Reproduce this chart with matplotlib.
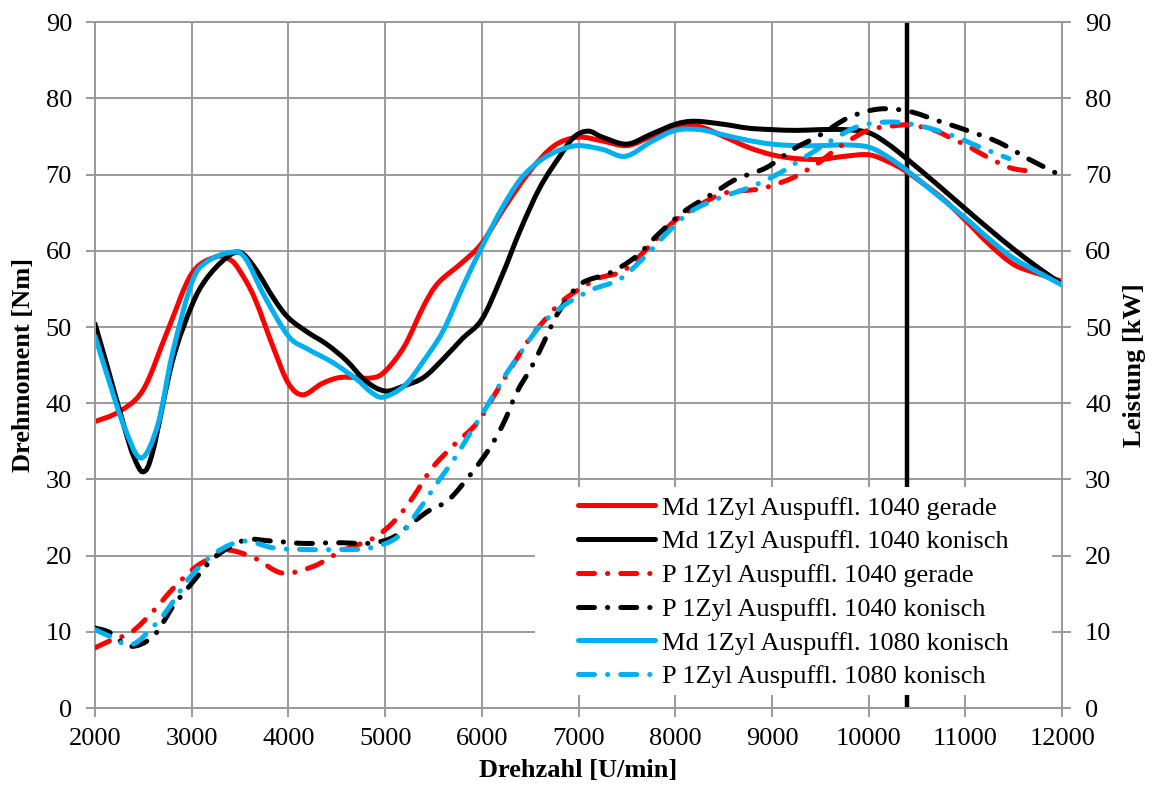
import matplotlib
matplotlib.use("Agg")
import matplotlib.pyplot as plt
from matplotlib.patches import Rectangle, PathPatch
from matplotlib.path import Path
from matplotlib.lines import Line2D

# Drehmoment (Nm) und Leistung (kW) über Drehzahl (U/min)
rpm_md_1040_gerade = [2000, 2250, 2500, 2750, 3000, 3250, 3400, 3500, 3650, 3850, 4000, 4150,
                      4350, 4550, 4850, 5000, 5200, 5400, 5550, 5800, 6000, 6250, 6500, 6750,
                      7000, 7250, 7500, 7750, 8000, 8250, 8500, 8750, 9000, 9250, 9500, 9750,
                      10000, 10200, 10400, 10750, 11000, 11250, 11500, 11750, 12000]
md_1040_gerade = [37.6, 38.9, 41.8, 49.5, 57.0, 59.2, 58.8, 57.3, 53.8, 47.1, 42.6, 41.1,
                  42.6, 43.4, 43.3, 44.2, 47.5, 52.8, 55.8, 58.5, 61.0, 66.0, 70.5, 73.8,
                  74.9, 74.4, 73.8, 75.0, 76.3, 76.3, 75.0, 73.6, 72.6, 72.1, 72.0, 72.4,
                  72.6, 71.7, 70.3, 67.0, 64.0, 60.8, 58.2, 57.0, 56.0]

rpm_md_1040_konisch = [2000, 2125, 2300, 2400, 2500, 2600, 2800, 3000, 3150, 3350, 3500, 3650,
                       3850, 4000, 4200, 4400, 4600, 4800, 5000, 5200, 5400, 5600, 5800, 6000,
                       6200, 6400, 6600, 6800, 6950, 7100, 7250, 7500, 7750, 8000, 8200, 8500,
                       8750, 9000, 9250, 9500, 9750, 10000, 10200, 10400, 10700, 11000, 11250,
                       11500, 11750, 12000]
md_1040_konisch = [50.4, 44.9, 37.0, 33.0, 31.0, 33.8, 45.5, 52.8, 56.3, 59.0, 59.8, 57.8,
                   53.7, 51.2, 49.3, 47.7, 45.6, 42.9, 41.6, 42.3, 43.4, 45.8, 48.5, 51.0,
                   56.5, 62.8, 68.3, 72.3, 74.9, 75.7, 74.9, 74.0, 75.3, 76.6, 77.0, 76.6,
                   76.1, 75.9, 75.8, 75.9, 75.9, 75.5, 74.0, 72.0, 68.8, 65.5, 62.8,
                   60.2, 57.8, 55.6]

rpm_md_1080_konisch = [2000, 2150, 2300, 2475, 2650, 2800, 3000, 3150, 3400, 3550, 3750, 4000,
                       4200, 4450, 4700, 4850, 4980, 5200, 5400, 5600, 5800, 6000, 6200, 6400,
                       6600, 6800, 7000, 7250, 7485, 7750, 8000, 8250, 8500, 8750, 9000, 9250,
                       9500, 9750, 10000, 10200, 10400, 10700, 11000, 11250, 11500, 11750, 12000]
md_1080_konisch = [48.8, 42.7, 37.0, 32.8, 37.2, 46.5, 55.8, 58.5, 59.8, 59.1, 54.1, 48.8,
                   47.1, 45.4, 43.2, 41.5, 40.8, 42.3, 45.6, 49.5, 55.2, 60.5, 65.4, 69.4,
                   71.8, 73.2, 73.8, 73.3, 72.4, 74.3, 75.8, 75.9, 75.2, 74.5, 74.0, 73.8,
                   73.8, 73.9, 73.6, 72.3, 70.5, 67.4, 64.3, 61.5, 59.0, 57.2, 55.5]

rpm_p_1040_gerade = [2000, 2150, 2380, 2600, 2830, 3050, 3250, 3365, 3500, 3680, 3940, 4260,
                     4550, 4880, 5100, 5290, 5480, 5710, 5950, 6140, 6290, 6500, 6670, 6850,
                     7190, 7465, 7740, 8000, 8250, 8515, 8865, 9100, 9250, 9465, 9640, 9815,
                     10010, 10260, 10440, 10680, 10880, 11030, 11240, 11460, 11630]
p_1040_gerade = [7.9, 8.8, 10.0, 12.7, 16.0, 18.6, 20.0, 20.7, 20.4, 19.5, 17.7, 18.6,
                 20.6, 22.3, 24.6, 27.7, 31.4, 34.5, 37.4, 41.3, 44.4, 48.6, 51.2, 53.6,
                 56.3, 57.4, 60.7, 64.0, 66.0, 67.6, 68.1, 69.0, 69.8, 71.4, 73.1, 74.6,
                 75.9, 76.4, 76.5, 75.8, 74.6, 73.7, 72.2, 70.9, 70.5]

rpm_p_1040_konisch = [2000, 2155, 2360, 2600, 2810, 2990, 3230, 3540, 3835, 4160, 4490, 4815,
                      5000, 5120, 5300, 5465, 5655, 5880, 6070, 6225, 6360, 6520, 6670, 6790,
                      7015, 7325, 7600, 7810, 8085, 8400, 8630, 8940, 9215, 9485, 9795, 10105,
                      10415, 10730, 11040, 11350, 11660, 12000]
p_1040_konisch = [10.5, 9.9, 8.1, 9.4, 13.4, 16.2, 19.7, 22.0, 21.9, 21.6, 21.7, 21.6,
                  22.0, 22.7, 24.5, 26.0, 27.3, 30.6, 33.9, 37.4, 41.4, 44.9, 48.8, 51.9,
                  55.6, 57.1, 59.3, 62.0, 65.1, 67.6, 69.4, 70.9, 73.3, 75.1, 77.5, 78.6,
                  78.3, 77.0, 75.7, 74.2, 72.0, 69.8]

rpm_p_1080_konisch = [2000, 2155, 2380, 2640, 2810, 2990, 3250, 3540, 3850, 4180, 4510, 4840,
                      5135, 5360, 5535, 5710, 5880, 6020, 6225, 6400, 6600, 6845, 7140, 7430,
                      7690, 7950, 8165, 8450, 8765, 9050, 9330, 9630, 9910, 10240, 10560, 10870,
                      11170, 11450]
p_1080_konisch = [10.3, 9.4, 8.3, 11.2, 14.0, 17.3, 20.4, 21.9, 21.0, 20.8, 20.8, 21.0,
                  22.5, 26.2, 29.5, 32.6, 36.1, 38.9, 43.3, 46.6, 50.1, 52.8, 54.9, 56.3,
                  59.3, 62.8, 65.2, 66.9, 68.3, 70.0, 72.2, 74.6, 76.4, 76.9, 76.3, 75.1,
                  73.5, 72.1]

labels = ["Md 1Zyl Auspuffl. 1040 gerade",
          "Md 1Zyl Auspuffl. 1040 konisch",
          "P 1Zyl Auspuffl. 1040 gerade",
          "P 1Zyl Auspuffl. 1040 konisch",
          "Md 1Zyl Auspuffl. 1080 konisch",
          "P 1Zyl Auspuffl. 1080 konisch"]

x_ticks = list(range(2000, 12001, 1000))
y_ticks = list(range(0, 91, 10))
marker_rpm = 10400

RED = "#FF0000"
BLACK = "#000000"
BLUE = "#00B0F0"
GRID = "#9A9A9A"

LW = 3.6
DASHDOT = (0, (3.2, 2.6, 0.05, 2.6))


def smooth_path(xs, ys):
    """Smoothed line through the points (Catmull-Rom segments as cubic Beziers)."""
    pts = list(zip(xs, ys))
    n = len(pts)
    verts = [pts[0]]
    codes = [Path.MOVETO]
    for i in range(n - 1):
        p0 = pts[i - 1] if i > 0 else pts[i]
        p1 = pts[i]
        p2 = pts[i + 1]
        p3 = pts[i + 2] if i + 2 < n else pts[i + 1]
        c1 = (p1[0] + (p2[0] - p0[0]) / 6.0, p1[1] + (p2[1] - p0[1]) / 6.0)
        c2 = (p2[0] - (p3[0] - p1[0]) / 6.0, p2[1] - (p3[1] - p1[1]) / 6.0)
        verts += [c1, c2, p2]
        codes += [Path.CURVE4, Path.CURVE4, Path.CURVE4]
    return Path(verts, codes)


def add_curve(axis, xs, ys, color, linestyle="solid", zorder=3):
    patch = PathPatch(smooth_path(xs, ys), facecolor="none", edgecolor=color, lw=LW,
                      linestyle=linestyle, capstyle="round", joinstyle="round",
                      zorder=zorder)
    axis.add_patch(patch)


plt.rcParams["font.family"] = ["Liberation Serif", "DejaVu Serif"]
plt.rcParams["font.size"] = 19

fig = plt.figure(figsize=(11.53, 7.92), dpi=100)
ax = fig.add_axes([0.0824, 0.106, 0.8388, 0.866])
ax2 = ax.twinx()

add_curve(ax, rpm_md_1040_gerade, md_1040_gerade, RED)
add_curve(ax, rpm_md_1040_konisch, md_1040_konisch, BLACK)
add_curve(ax, rpm_md_1080_konisch, md_1080_konisch, BLUE, zorder=4)

add_curve(ax2, rpm_p_1040_gerade, p_1040_gerade, RED, DASHDOT)
add_curve(ax2, rpm_p_1040_konisch, p_1040_konisch, BLACK, DASHDOT)
add_curve(ax2, rpm_p_1080_konisch, p_1080_konisch, BLUE, DASHDOT, zorder=4)

# marker line at the rated speed
ax.axvline(marker_rpm, color=BLACK, lw=3.2, zorder=1.5)

for a in (ax, ax2):
    a.set_xlim(x_ticks[0], x_ticks[-1])
    a.set_ylim(y_ticks[0], y_ticks[-1])
    a.set_yticks(y_ticks)
    for s in a.spines.values():
        s.set_color(GRID)
        s.set_linewidth(1.4)

ax.set_xticks(x_ticks)
ax.grid(True, color=GRID, linewidth=1.4)
ax.set_axisbelow(True)
ax.tick_params(axis="both", direction="out", color=GRID, width=1.4, length=6.5)
ax.tick_params(axis="y", pad=10)
ax.tick_params(axis="x", pad=8)
ax2.tick_params(axis="y", direction="out", color=GRID, width=1.4, length=6.5, pad=10)

ax.set_xlabel("Drehzahl [U/min]", fontweight="bold", labelpad=6)
ax.set_ylabel("Drehmoment [Nm]", fontweight="bold", labelpad=8)
ax2.set_ylabel("Leistung [kW]", fontweight="bold", labelpad=8)

# white background behind the legend
ax.add_patch(Rectangle((0.455, 0.019), 0.535, 0.303, transform=ax.transAxes,
                       facecolor="white", edgecolor="none", zorder=1.8))

handles = [
    Line2D([], [], color=RED, lw=LW, solid_capstyle="round"),
    Line2D([], [], color=BLACK, lw=LW, solid_capstyle="round"),
    Line2D([], [], color=RED, lw=LW, linestyle=DASHDOT, dash_capstyle="round"),
    Line2D([], [], color=BLACK, lw=LW, linestyle=DASHDOT, dash_capstyle="round"),
    Line2D([], [], color=BLUE, lw=LW, solid_capstyle="round"),
    Line2D([], [], color=BLUE, lw=LW, linestyle=DASHDOT, dash_capstyle="round"),
]
leg = ax2.legend(handles, labels, loc="upper left", bbox_to_anchor=(0.4995, 0.309),
                 frameon=False, borderpad=0, borderaxespad=0, handlelength=2.9,
                 handletextpad=0.28, labelspacing=0.39, fontsize=19)

fig.savefig("out.png", dpi=100)
